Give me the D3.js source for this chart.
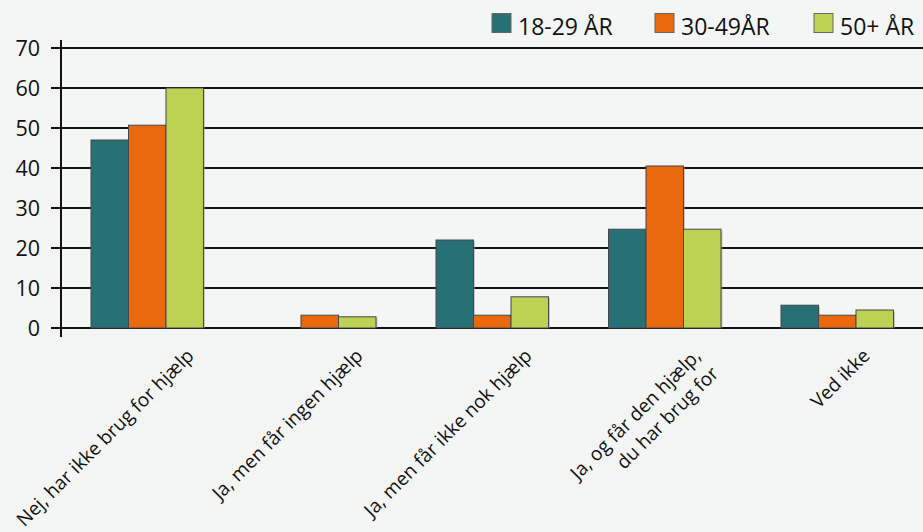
<!DOCTYPE html>
<html>
<head>
<meta charset="utf-8">
<script src="https://cdn.jsdelivr.net/npm/d3@7/dist/d3.min.js"></script>
<style>
  html, body { margin: 0; padding: 0; background: #f4f6f5; }
  svg { display: block; }
  text { font-family: "Open Sans", "Noto Sans", sans-serif; fill: #111; }
</style>
</head>
<body>
<svg id="chart" width="923" height="532"></svg>
<script>
const categories = [
  ["Nej, har ikke brug for hjælp"],
  ["Ja, men får ingen hjælp"],
  ["Ja, men får ikke nok hjælp"],
  ["Ja, og får den hjælp,", "du har brug for"],
  ["Ved ikke"]
];
const categoryKeys = categories.map(c => c.join(" "));
const seriesNames = ["18-29 ÅR", "30-49ÅR", "50+ ÅR"];
const series1829 = [47, 0, 22, 24.7, 5.7];
const series3049 = [50.7, 3.2, 3.2, 40.5, 3.2];
const series50 = [60, 2.8, 7.8, 24.7, 4.5];
const yTicks = [0, 10, 20, 30, 40, 50, 60, 70];
const colors = ["#277073", "#e9690c", "#bdd152"];

const seriesValues = [series1829, series3049, series50];
const svg = d3.select("#chart");

const plotLeft = 61, plotRight = 923.5, plotTop = 48, plotBottom = 328;

const y = d3.scaleLinear().domain([0, 70]).range([plotBottom, plotTop]);
const x0 = d3.scaleBand().domain(categoryKeys).range([plotLeft, plotRight]).paddingInner(0).paddingOuter(0);
const x1 = d3.scaleBand().domain(seriesNames).range([0, x0.bandwidth()]).paddingInner(0).paddingOuter(0.8);
const xLabel = d3.scalePoint().domain(categoryKeys).range([195, 871]);

// gridlines
svg.append("g").selectAll("line").data(yTicks).join("line")
  .attr("x1", plotLeft - 10).attr("x2", 923)
  .attr("y1", d => y(d)).attr("y2", d => y(d))
  .attr("stroke", "#111").attr("stroke-width", 2);

// y axis line
svg.append("line").attr("x1", plotLeft).attr("x2", plotLeft)
  .attr("y1", plotTop - 8).attr("y2", plotBottom + 9)
  .attr("stroke", "#111").attr("stroke-width", 2);

// y tick labels
svg.append("g").selectAll("text").data(yTicks).join("text")
  .attr("x", 40).attr("y", d => y(d)).attr("dy", "0.36em")
  .attr("text-anchor", "end").attr("font-size", 21.5)
  .text(d => d);

// bars
const rows = [];
categoryKeys.forEach((c, i) => {
  seriesNames.forEach((s, j) => {
    rows.push({ c, s, j, v: seriesValues[j][i] });
  });
});
const barData = rows.filter(d => d.v > 0);
const gBars = svg.append("g");
// soft shadow
gBars.selectAll("rect.shadow").data(barData).join("rect").attr("class", "shadow")
  .attr("x", d => x0(d.c) + x1(d.s) + 1.5)
  .attr("y", d => y(d.v) + 1.5)
  .attr("width", x1.bandwidth())
  .attr("height", d => y(0) - y(d.v) - 1.5)
  .attr("fill", "#9a9a9a").attr("opacity", 0.5);
gBars.selectAll("rect.bar").data(barData).join("rect").attr("class", "bar")
  .attr("x", d => x0(d.c) + x1(d.s))
  .attr("y", d => y(d.v))
  .attr("width", x1.bandwidth())
  .attr("height", d => y(0) - y(d.v))
  .attr("fill", d => colors[d.j])
  .attr("stroke", "#45454f").attr("stroke-width", 1);

// x labels
const gLab = svg.append("g");
categories.forEach((lines, i) => {
  const t = gLab.append("text")
    .attr("transform", `translate(${xLabel(categoryKeys[i])},357) rotate(-45)`)
    .attr("text-anchor", "end").attr("font-size", 19);
  lines.forEach((ln, k) => {
    t.append("tspan").attr("x", 0).attr("dy", k === 0 ? 0 : 25).text(ln);
  });
});

// legend
const legendX = [492, 655, 814];
const gLeg = svg.append("g");
seriesNames.forEach((s, j) => {
  gLeg.append("rect").attr("x", legendX[j]).attr("y", 13.5)
    .attr("width", 19).attr("height", 19)
    .attr("fill", colors[j]).attr("stroke", "#666").attr("stroke-width", 1);
  gLeg.append("text").attr("x", legendX[j] + 26).attr("y", 34.5)
    .attr("font-size", 23).text(s);
});
</script>
</body>
</html>
